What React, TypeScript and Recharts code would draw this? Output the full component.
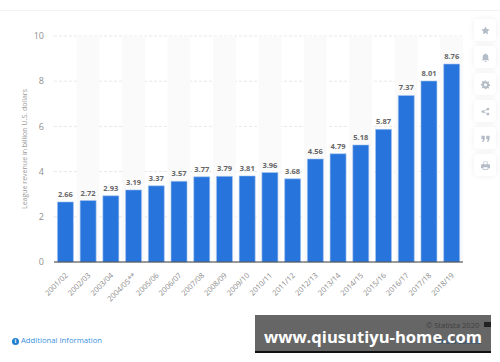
import { BarChart, Bar, XAxis, YAxis, CartesianGrid, LabelList, ReferenceArea } from "recharts";

const seasons = [
  "2001/02", "2002/03", "2003/04", "2004/05**", "2005/06", "2006/07", "2007/08", "2008/09", "2009/10",
  "2010/11", "2011/12", "2012/13", "2013/14", "2014/15", "2015/16", "2016/17", "2017/18", "2018/19",
];
const revenue = [2.66, 2.72, 2.93, 3.19, 3.37, 3.57, 3.77, 3.79, 3.81, 3.96, 3.68, 4.56, 4.79, 5.18, 5.87, 7.37, 8.01, 8.76];
const yTicks = [0, 2, 4, 6, 8, 10];
const shadedSeasons = seasons.filter((_, i) => i % 2 === 1);

const chartData = seasons.map((season, i) => ({ season, revenue: revenue[i] }));

const FONT = "'Open Sans', sans-serif";

function SeasonTick({ x, y, payload }: any) {
  return (
    <text
      x={x + 3}
      y={y + 6}
      textAnchor="end"
      fontSize={7.5}
      fontFamily={FONT}
      fill="#8a8a8a"
      transform={`rotate(-45 ${x + 3} ${y + 6})`}
    >
      {payload.value}
    </text>
  );
}

const icons = [
  <path key="star" d="M8 2l1.9 3.9 4.1.6-3 2.9.7 4.1L8 11.6l-3.700 1.900.7-4.100-3-2.900 4.100-.6z" />,
  <path key="bell" d="M8 2a1 1 0 0 1 1 1c2 .5 3 2 3 4v3l1.500 2h-11L4 10V7c0-2 1-3.500 3-4a1 1 0 0 1 1-1zM6.500 13h3a1.500 1.500 0 0 1-3 0z" />,
  <path key="gear" fillRule="evenodd" d="M7 2h2l.3 1.600 1.300.6 1.400-.9 1.400 1.400-.9 1.400.6 1.300 1.600.3v2l-1.600.3-.6 1.300.9 1.400-1.400 1.400-1.400-.9-1.300.6L9 15H7l-.3-1.600-1.300-.6-1.400.9-1.400-1.400.9-1.400-.6-1.300L1.300 9.300v-2l1.600-.3.6-1.300-.9-1.400 1.400-1.400 1.400.9 1.300-.6zM8 6.200a2.200 2.200 0 1 0 0 4.400 2.200 2.200 0 0 0 0-4.400z" />,
  <path key="share" d="M11.500 2.500a2 2 0 1 1-1.400 3.400L6.400 7.700a2 2 0 0 1 0 .9l3.700 1.800a2 2 0 1 1-.5 1l-3.800-1.900a2 2 0 1 1 0-2.700l3.800-1.900a2 2 0 0 1 1.900-2.400z" />,
  <path key="quote" d="M2 4h5v5l-2 4H3l1.500-4H2zM9 4h5v5l-2 4h-2l1.500-4H9z" />,
  <path key="print" fillRule="evenodd" d="M5 2h6v4h2a1.500 1.500 0 0 1 1.500 1.500V12H12v2H4v-2H1.500V7.500A1.500 1.500 0 0 1 3 6h2zM6 3v3h4V3zM5 10.500V13h6v-2.500z" />,
];

export default function App() {
  return (
    <div style={{ position: "absolute", left: 0, top: 0, width: 500, height: 362, background: "#fff", overflow: "hidden" }}>
      <div style={{ position: "absolute", left: 0, top: 10, width: 500, height: 1, background: "#f3f3f3" }} />

      <BarChart
        width={500}
        height={362}
        data={chartData}
        barCategoryGap="15%"
        margin={{ top: 36, right: 37, left: 0, bottom: 0 }}
      >
        {shadedSeasons.map((s) => (
          <ReferenceArea key={s} x1={s} x2={s} fill="#fafafa" fillOpacity={1} stroke="none" ifOverflow="visible" />
        ))}
        <CartesianGrid vertical={false} stroke="#e8e8e8" strokeDasharray="3 2" />
        <XAxis
          dataKey="season"
          interval={0}
          height={100}
          tick={<SeasonTick />}
          tickLine={false}
          axisLine={{ stroke: "#3c3c3c", strokeWidth: 1 }}
        />
        <YAxis
          width={54}
          domain={[0, 10]}
          ticks={yTicks}
          tickMargin={4}
          tickLine={false}
          axisLine={false}
          tick={{ fontSize: 9, fontFamily: FONT, fill: "#8f8f8f" }}
          label={{
            value: "League revenue in billion U.S. dollars",
            angle: -90,
            position: "center",
            dx: -2,
            fontSize: 7,
            fontFamily: FONT,
            fill: "#9a9a9a",
          }}
        />
        <Bar dataKey="revenue" fill="#2874dd" stroke="#a9c8f0" strokeWidth={0.6} isAnimationActive={false}>
          <LabelList dataKey="revenue" position="top" offset={5} fontSize={7.5} fontWeight={700} fontFamily={FONT} fill="#666" formatter={(v: number) => v.toFixed(2)} />
        </Bar>
      </BarChart>

      {icons.map((icon, i) => (
        <div
          key={i}
          style={{
            position: "absolute",
            left: 474,
            top: 19 + i * 27,
            width: 22,
            height: 22,
            borderRadius: 4,
            background: "#fff",
            boxShadow: "0 0 6px rgba(0,0,0,0.07)",
            display: "flex",
            alignItems: "center",
            justifyContent: "center",
          }}
        >
          <svg width={11} height={11} viewBox="0 0 16 16" fill="#b4bcc8">{icon}</svg>
        </div>
      ))}

      <div style={{ position: "absolute", left: 12, top: 335, fontFamily: FONT, fontSize: 7.7, color: "#3a93e0", whiteSpace: "nowrap" }}>
        <span style={{ display: "inline-block", width: 7, height: 7, lineHeight: "7px", borderRadius: 4, background: "#1f7fd0", color: "#fff", fontSize: 6, fontWeight: 700, textAlign: "center", marginRight: 2 }}>i</span>
        Additional Information
      </div>

      <div style={{ position: "absolute", left: 255, top: 315, width: 236, height: 36, background: "#666", borderBottom: "2px solid #111" }} />
      <div style={{ position: "absolute", left: 426, top: 320, fontFamily: FONT, fontSize: 7.5, color: "#3f3f3f", whiteSpace: "nowrap" }}>© Statista 2020</div>
      <div style={{ position: "absolute", left: 484, top: 322, width: 7, height: 5, background: "#222" }} />
      <div style={{ position: "absolute", left: 437, top: 336, fontFamily: FONT, fontSize: 7.5, color: "#1c4f7c", whiteSpace: "nowrap" }}>Show source</div>
      <div style={{ position: "absolute", left: 264, top: 325, fontFamily: FONT, fontWeight: 700, fontSize: 16.6, lineHeight: "24px", color: "#fff", whiteSpace: "nowrap" }}>
        www.qiusutiyu-home.com
      </div>
    </div>
  );
}
